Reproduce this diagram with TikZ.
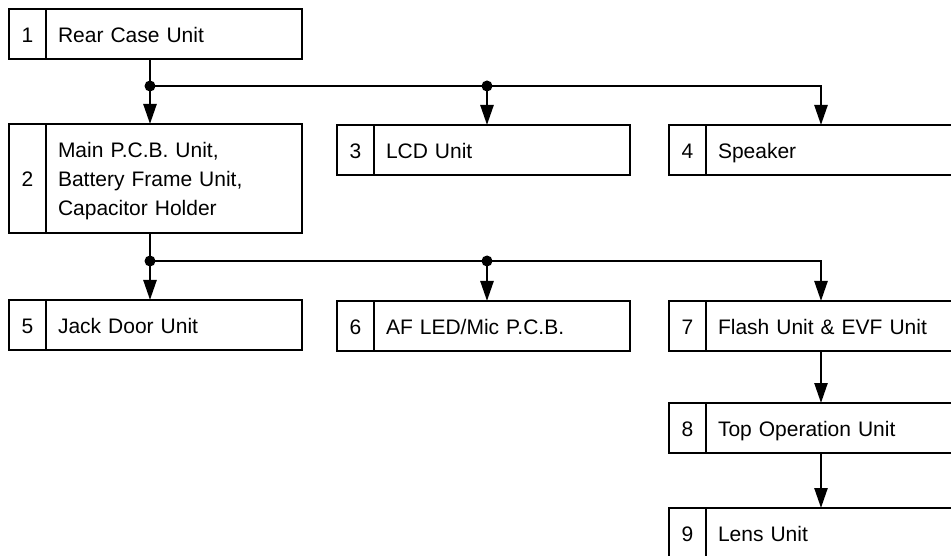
\documentclass[tikz,border=0pt]{standalone}
\usepackage{fontspec}
\setmainfont{Liberation Sans}
\usetikzlibrary{arrows.meta}

\tikzset{
  numcell/.style={draw,line width=2pt,minimum width=37pt,minimum height=50pt,
    text height=22pt,text depth=5pt,inner sep=0pt,outer sep=0pt,anchor=north west},
  textcell/.style={draw,line width=2pt,minimum height=50pt,text width=232pt,
    inner xsep=12pt,inner ysep=0pt,outer sep=0pt,align=left,anchor=north west,
    execute at begin node=\rule{0pt}{22pt},
    execute at end node=\rule[-5pt]{0pt}{5pt}},
  link/.style={line width=2.5pt},
  drop/.style={link,-{Triangle[width=13pt,length=20pt]}},
  joint/.style={circle,fill,inner sep=0pt,minimum size=11pt}
}

\begin{document}
\begin{tikzpicture}[x=1pt,y=-1pt,font=\fontsize{21}{29}\selectfont]
\useasboundingbox (0,0) rectangle (951,556);
\clip (0,0) rectangle (951,556);
% boxes
\node[numcell] (n1) at (9,9) {1};
\node[textcell] (t1) at (n1.north east) {Rear Case Unit};
\node[numcell,minimum height=109pt] (n2) at (9,124) {2};
\node[textcell,minimum height=109pt] (t2) at (n2.north east) {Main P.C.B. Unit,\\Battery Frame Unit,\\Capacitor Holder};
\node[numcell] (n3) at (337,125) {3};
\node[textcell] (t3) at (n3.north east) {LCD Unit};
\node[numcell] (n4) at (669,125) {4};
\node[textcell] (t4) at (n4.north east) {Speaker};
\node[numcell] (n5) at (9,300) {5};
\node[textcell] (t5) at (n5.north east) {Jack Door Unit};
\node[numcell] (n6) at (337,301) {6};
\node[textcell] (t6) at (n6.north east) {AF LED/Mic P.C.B.};
\node[numcell] (n7) at (669,301) {7};
\node[textcell] (t7) at (n7.north east) {Flash Unit \& EVF Unit};
\node[numcell] (n8) at (669,403) {8};
\node[textcell] (t8) at (n8.north east) {Top Operation Unit};
\node[numcell] (n9) at (669,508) {9};
\node[textcell] (t9) at (n9.north east) {Lens Unit};
% first branch
\coordinate (j1) at (150,86);
\coordinate (j1b) at (487,86);
\coordinate (j1c) at (821,86);
\draw[drop] (t1.south -| j1) -- (t2.north -| j1);
\draw[drop] (j1) -- (j1c) -- (t4.north -| j1c);
\draw[drop] (j1b) -- (t3.north -| j1b);
\node[joint] (dot1) at (j1) {};
\node[joint] (dot1b) at (j1b) {};
% second branch
\coordinate (j2) at (150,261);
\coordinate (j2b) at (487,261);
\coordinate (j2c) at (821,261);
\draw[drop] (t2.south -| j2) -- (t5.north -| j2);
\draw[drop] (j2) -- (j2c) -- (t7.north -| j2c);
\draw[drop] (j2b) -- (t6.north -| j2b);
\node[joint] (dot2) at (j2) {};
\node[joint] (dot2b) at (j2b) {};
% chain on the right
\draw[drop] (t7.south -| j2c) -- (t8.north -| j2c);
\draw[drop] (t8.south -| j2c) -- (t9.north -| j2c);
\end{tikzpicture}
\end{document}
